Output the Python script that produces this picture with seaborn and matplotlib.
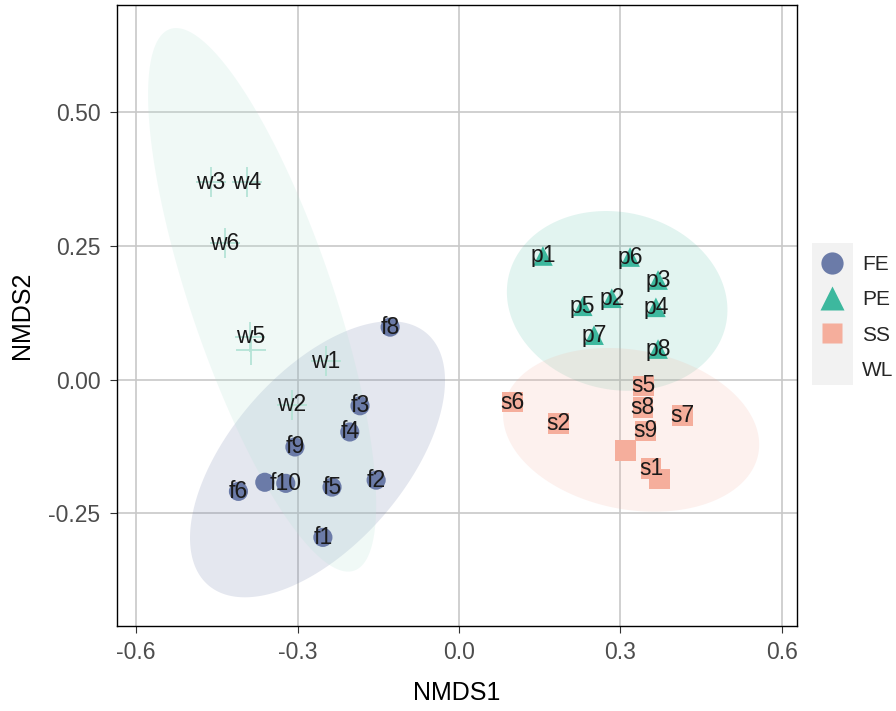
import numpy as np
import pandas as pd
import seaborn as sns
import matplotlib.pyplot as plt
from matplotlib.lines import Line2D
from matplotlib.patches import Rectangle

# === Data ===
fe_x = [-0.253, -0.154, -0.184, -0.203, -0.236, -0.410, -0.361, -0.128, -0.305, -0.322]
fe_y = [-0.295, -0.188, -0.049, -0.098, -0.201, -0.209, -0.192, 0.098, -0.126, -0.194]
fe_lab = ["f1", "f2", "f3", "f4", "f5", "f6", "", "f8", "f9", "f10"]

pe_x = [0.156, 0.284, 0.370, 0.366, 0.230, 0.318, 0.251, 0.370]
pe_y = [0.231, 0.152, 0.186, 0.135, 0.137, 0.229, 0.083, 0.057]
pe_lab = ["p1", "p2", "p3", "p4", "p5", "p6", "p7", "p8"]

ss_x = [0.357, 0.185, 0.309, 0.372, 0.343, 0.099, 0.415, 0.342, 0.347]
ss_y = [-0.166, -0.082, -0.133, -0.186, -0.012, -0.042, -0.067, -0.053, -0.096]
ss_lab = ["s1", "s2", "", "", "s5", "s6", "s7", "s8", "s9"]

wl_x = [-0.248, -0.311, -0.461, -0.394, -0.388, -0.435, -0.387]
wl_y = [0.034, -0.047, 0.369, 0.369, 0.080, 0.255, 0.056]
wl_lab = ["w1", "w2", "w3", "w4", "w5", "w6", ""]

groups = ["FE", "PE", "SS", "WL"]
colors = {"FE": "#6B7BA8", "PE": "#3DB89E", "SS": "#F5AE9C", "WL": "#B5E3D6"}

# 95% ellipses: centre, half extent in x / y, tilt (correlation)
ell_cx = {"FE": -0.263, "PE": 0.294, "SS": 0.320, "WL": -0.366}
ell_cy = {"FE": -0.149, "PE": 0.147, "SS": -0.094, "WL": 0.149}
ell_hw = {"FE": 0.237, "PE": 0.205, "SS": 0.238, "WL": 0.212}
ell_hh = {"FE": 0.258, "PE": 0.168, "SS": 0.153, "WL": 0.508}
ell_rho = {"FE": 0.57, "PE": -0.10, "SS": -0.18, "WL": -0.754}
ell_alpha = {"FE": 0.18, "PE": 0.15, "SS": 0.17, "WL": 0.2}

df = pd.concat([
    pd.DataFrame({"NMDS1": fe_x, "NMDS2": fe_y, "label": fe_lab, "group": "FE"}),
    pd.DataFrame({"NMDS1": pe_x, "NMDS2": pe_y, "label": pe_lab, "group": "PE"}),
    pd.DataFrame({"NMDS1": ss_x, "NMDS2": ss_y, "label": ss_lab, "group": "SS"}),
    pd.DataFrame({"NMDS1": wl_x, "NMDS2": wl_y, "label": wl_lab, "group": "WL"}),
], ignore_index=True)

def ellipse_xy(g, n_pts=300):
    t = np.linspace(0, 2 * np.pi, n_pts)
    r = ell_rho[g]
    ex = ell_cx[g] + ell_hw[g] * np.cos(t)
    ey = ell_cy[g] + ell_hh[g] * (r * np.cos(t) + np.sqrt(1 - r * r) * np.sin(t))
    return ex, ey

sns.set_style("whitegrid")
plt.rcParams['font.family'] = ['Liberation Sans', 'DejaVu Sans']

fig = plt.figure(figsize=(8.96, 7.11), dpi=100)
ax = fig.add_axes([0.1306, 0.1195, 0.7589, 0.8734])

for g in groups:
    ex, ey = ellipse_xy(g)
    ax.fill(ex, ey, color=colors[g], alpha=ell_alpha[g], lw=0, zorder=1)

sizes = {"FE": 190, "PE": 200, "SS": 225}
marks = {"FE": "o", "PE": "^", "SS": "s"}
for g in ["FE", "PE", "SS"]:
    sub = df[df["group"] == g]
    sns.scatterplot(data=sub, x="NMDS1", y="NMDS2", marker=marks[g], s=sizes[g],
                    color=colors[g], edgecolor="none", linewidth=0, ax=ax, zorder=3, legend=False)
wl = df[df["group"] == "WL"]
ax.scatter(wl["NMDS1"], wl["NMDS2"], marker="+", s=460, color=colors["WL"],
           linewidths=1.3, zorder=3)

for _, row in df.iterrows():
    if row["label"]:
        ax.text(row["NMDS1"], row["NMDS2"], row["label"], ha="center", va="center",
                fontsize=16.5, color="#1A1A1A", zorder=4)

ax.set_xlim(-0.6357, 0.6283)
ax.set_ylim(-0.4607, 0.700)
ax.set_xticks([-0.6, -0.3, 0.0, 0.3, 0.6])
ax.set_xticklabels(["-0.6", "-0.3", "0.0", "0.3", "0.6"])
ax.set_yticks([-0.25, 0.0, 0.25, 0.5])
ax.set_yticklabels(["-0.25", "0.00", "0.25", "0.50"])
ax.grid(True, color="#C8C8C8", lw=1.2)
ax.set_axisbelow(True)
for s in ax.spines.values():
    s.set_color("black")
    s.set_linewidth(1.0)
ax.tick_params(axis="both", direction="out", length=5, width=0.8, color="#333333",
               labelsize=16.5, labelcolor="#4D4D4D", bottom=True, left=True)
ax.tick_params(axis="x", pad=6)
ax.tick_params(axis="y", pad=7)
ax.set_xlabel("NMDS1", fontsize=18, color="black", labelpad=12)
ax.set_ylabel("NMDS2", fontsize=18, color="black", labelpad=10)

# legend: grey key background, labels beside it
fig.patches.append(Rectangle((812 / 896, 1 - 385 / 711), 41 / 896, 142 / 711,
                             transform=fig.transFigure, facecolor="#F2F2F2",
                             edgecolor="none", zorder=0))
handles = [
    Line2D([], [], marker="o", ls="", color=colors["FE"], markersize=16, markeredgecolor="none"),
    Line2D([], [], marker="^", ls="", color=colors["PE"], markersize=17, markeredgecolor="none"),
    Line2D([], [], marker="s", ls="", color=colors["SS"], markersize=15, markeredgecolor="none"),
    Line2D([], [], marker="+", ls="", color="#F2F2F2", markersize=12),
]
leg = fig.legend(handles, groups, loc="upper left", bbox_to_anchor=(812 / 896, 1 - 255 / 711),
                 frameon=False, fontsize=15, handletextpad=0.5, labelspacing=0.78,
                 borderpad=0.0, borderaxespad=0.0, handlelength=1.9)

fig.savefig("out.png", dpi=100)
